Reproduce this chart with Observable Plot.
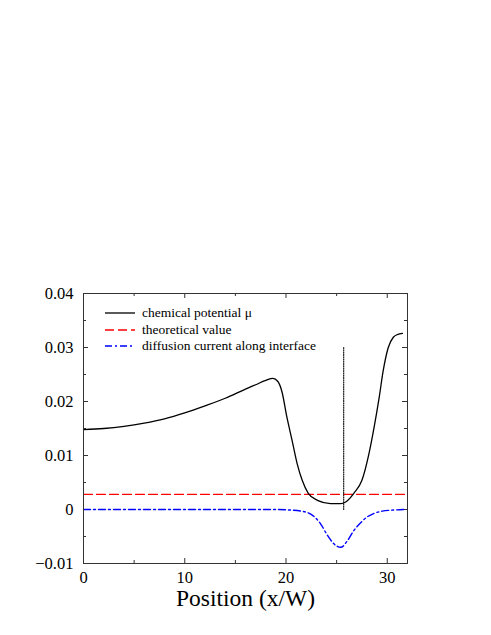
<!DOCTYPE html>
<html>
<head>
<meta charset="utf-8">
<script src="https://cdn.jsdelivr.net/npm/d3@7"></script>
<script src="https://cdn.jsdelivr.net/npm/@observablehq/plot@0.6"></script>
<style>
  html, body { margin: 0; padding: 0; background: #fff; }
  #wrap { position: relative; width: 491px; height: 635px; }
  #legend { position: absolute; left: 104px; top: 305px; font-family: "Liberation Serif", serif; font-size: 13.5px; color: #000; }
  #legend .row { display: flex; align-items: center; height: 16.5px; }
  #legend svg { margin-right: 6px; }
</style>
</head>
<body>
<div id="wrap"><div id="legend"></div></div>
<script>
// chemical potential mu
const muX = [0, 2, 4, 6, 8, 10, 12, 14, 16, 17, 18, 18.7, 19.2, 19.6, 20.1, 20.6, 21.1, 21.6, 22.2, 23.1, 24.4, 25.4, 25.9, 26.7, 27.5, 28.2, 28.7, 29.2, 29.6, 30.1, 30.6, 31.0, 31.5];
const muY = [0.0148, 0.0150, 0.0154, 0.0160, 0.0168, 0.0179, 0.0192, 0.0206, 0.0223, 0.0231, 0.0239, 0.0243, 0.0237, 0.0218, 0.0170, 0.0128, 0.0085, 0.0054, 0.0030, 0.0017, 0.0011, 0.0011, 0.0014, 0.0030, 0.0054, 0.0104, 0.0152, 0.0207, 0.0257, 0.0300, 0.0319, 0.0324, 0.0326];
// diffusion current along interface
const jX = [0, 5, 10, 15, 19, 20.4, 21.5, 22.4, 23.4, 24.1, 24.7, 25.4, 26.1, 26.7, 27.4, 28.0, 28.6, 29.5, 30.6, 31.8];
const jY = [0, 0, 0, 0, 0, -0.0001, -0.0003, -0.0008, -0.0026, -0.0048, -0.0063, -0.0070, -0.0057, -0.0039, -0.0024, -0.0014, -0.0008, -0.0003, -0.0001, 0];
// theoretical value
const theoX = [0, 32];
const theoValue = 0.0028;
// vertical marker
const markerX = 25.7;
const markerY = [0, 0.03];
// axes
const xDomain = [0, 32];
const yDomain = [-0.01, 0.04];
const xTicks = [0, 10, 20, 30];
const xMinor = [5, 15, 25];
const yTicks = [-0.01, 0, 0.01, 0.02, 0.03, 0.04];
const yMinor = [-0.005, 0.005, 0.015, 0.025, 0.035];
const legendLabels = ["chemical potential \u03bc", "theoretical value", "diffusion current along interface"];
const xLabel = "Position (x/W)";

const W = 491, H = 635;
const mL = 83, mR = 84, mT = 293, mB = 72;
const fw = W - mL - mR, fh = H - mT - mB;
const major = 5, minor = 3;

const mu = muX.map((x, i) => ({x, y: muY[i]}));
const jc = jX.map((x, i) => ({x, y: jY[i]}));
const theo = theoX.map(x => ({x, y: theoValue}));
const marker = markerY.map(y => ({x: markerX, y}));

const fmtY = d => d === 0 ? "0" : d.toFixed(2).replace("-", "\u2212");
const serif = "Liberation Serif";

const chart = Plot.plot({
  width: W, height: H,
  marginLeft: mL, marginRight: mR, marginTop: mT, marginBottom: mB,
  style: {fontFamily: serif, fontSize: "16px", color: "#000", background: "#fff"},
  x: {domain: xDomain, axis: null},
  y: {domain: yDomain, axis: null},
  marks: [
    // inward ticks
    Plot.tickY(yTicks, {y: d => d, insetRight: fw - major, stroke: "#333"}),
    Plot.tickY(yTicks, {y: d => d, insetLeft: fw - major, stroke: "#333"}),
    Plot.tickY(yMinor, {y: d => d, insetRight: fw - minor, stroke: "#333"}),
    Plot.tickY(yMinor, {y: d => d, insetLeft: fw - minor, stroke: "#333"}),
    Plot.tickX(xTicks, {x: d => d, insetTop: fh - major, stroke: "#333"}),
    Plot.tickX(xTicks, {x: d => d, insetBottom: fh - major, stroke: "#333"}),
    Plot.tickX(xMinor, {x: d => d, insetTop: fh - minor, stroke: "#333"}),
    Plot.tickX(xMinor, {x: d => d, insetBottom: fh - minor, stroke: "#333"}),
    // tick labels
    Plot.text(yTicks, {y: d => d, text: fmtY, frameAnchor: "left", dx: -10, textAnchor: "end", fontSize: 16.5, fontFamily: serif, fill: "#000"}),
    Plot.text(xTicks, {x: d => d, text: d => String(d), frameAnchor: "bottom", dy: 14, lineAnchor: "middle", fontSize: 16.5, fontFamily: serif, fill: "#000"}),
    Plot.line(theo, {x: "x", y: "y", stroke: "#ff0000", strokeWidth: 1.2, strokeDasharray: "9,4"}),
    Plot.line(jc, {x: "x", y: "y", stroke: "#0000ff", strokeWidth: 1.4, strokeDasharray: "7,3,2,3", curve: "monotone-x"}),
    Plot.line(marker, {x: "x", y: "y", stroke: "#000", strokeWidth: 1.1, strokeDasharray: "1,1.3"}),
    Plot.line(mu, {x: "x", y: "y", stroke: "#000", strokeWidth: 1.3, curve: "monotone-x"}),
    Plot.frame({stroke: "#333", strokeWidth: 1}),
    Plot.text([xLabel], {frameAnchor: "bottom", dy: 35, fontSize: 23.5, fontFamily: serif, lineAnchor: "middle", fill: "#000"})
  ]
});
document.getElementById("wrap").prepend(chart);

const styles = [
  {stroke: "#000", dash: null},
  {stroke: "#ff0000", dash: "9,4"},
  {stroke: "#0000ff", dash: "7,3,2,3"}
];
const leg = document.getElementById("legend");
legendLabels.forEach((t, i) => {
  const row = document.createElement("div");
  row.className = "row";
  const s = styles[i];
  row.innerHTML = `<svg width="32" height="6"><line x1="1" y1="3" x2="31" y2="3" stroke="${s.stroke}" stroke-width="1.3" ${s.dash ? `stroke-dasharray="${s.dash}"` : ""}/></svg><span>${t}</span>`;
  leg.appendChild(row);
});
</script>
</body>
</html>
